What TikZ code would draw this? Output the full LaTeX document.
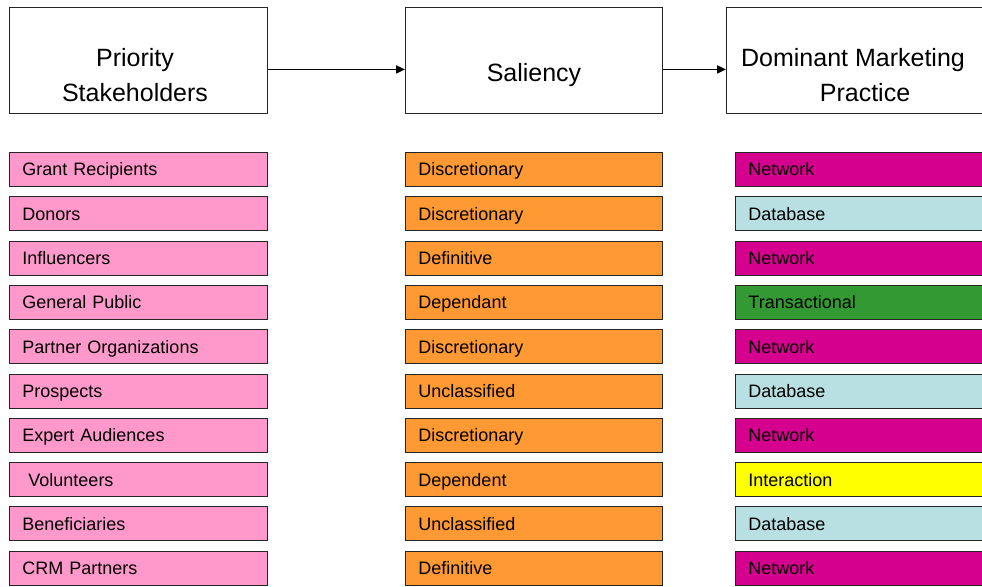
\documentclass[tikz,border=0pt]{standalone}
\usepackage{fontspec}
\setmainfont{Liberation Sans}
\usetikzlibrary{arrows.meta}
\definecolor{stakepink}{RGB}{255,153,204}
\definecolor{salorange}{RGB}{255,153,51}
\definecolor{netmagenta}{RGB}{214,0,142}
\definecolor{dbblue}{RGB}{184,223,226}
\definecolor{trgreen}{RGB}{51,153,51}
\definecolor{intyellow}{RGB}{255,255,0}
\begin{document}
\begin{tikzpicture}[x=1pt,y=-1pt,
  headbox/.style={draw=black!85, line width=0.9pt, fill=white,
    minimum width=258pt, minimum height=106pt, inner sep=0pt, anchor=north west},
  headtext/.style={font=\fontsize{25}{35}\selectfont, align=center, inner sep=0pt},
  rowbox/.style={draw=black!85, line width=0.9pt, minimum height=34pt,
    inner xsep=13pt, inner ysep=0pt, align=left, anchor=north west,
    text height=16pt, text depth=3pt,
    font=\fontsize{18}{21}\selectfont},
  leftcol/.style={rowbox, fill=stakepink, minimum width=258pt, text width=232pt},
  midcol/.style={rowbox, fill=salorange, minimum width=257pt, text width=231pt},
  rightcol/.style={rowbox, minimum width=260pt, text width=234pt},
  flow/.style={line width=1.8pt, -{Triangle[length=9pt,width=8pt]}}]
\useasboundingbox (0,0) rectangle (982,586);
\clip (0,0) rectangle (982,586);

% column headers
\node[headbox] (ps) at (9,7) {};
\node[headbox, minimum width=257pt] (sal) at (405,7) {};
\node[headbox, minimum width=265pt] (dmp) at (726,7) {};
\node[headtext] (pst) at (135,75) {Priority\\Stakeholders};
\node[headtext] (salt) at (534,75) {Saliency};
\node[headtext] (dmpt) at (853,75) {Dominant Marketing\\\hspace*{24pt}Practice};

\draw[flow] ([yshift=-9pt]ps.east) -- ([yshift=-9pt]sal.west);
\draw[flow] ([yshift=-9pt]sal.east) -- ([yshift=-9pt]dmp.west);

% stakeholder rows
\foreach \i/\stake/\sal/\prac/\pcol in {
  0/Grant Recipients/Discretionary/Network/netmagenta,
  1/Donors/Discretionary/Database/dbblue,
  2/Influencers/Definitive/Network/netmagenta,
  3/General Public/Dependant/Transactional/trgreen,
  4/Partner Organizations/Discretionary/Network/netmagenta,
  5/Prospects/Unclassified/Database/dbblue,
  6/Expert Audiences/Discretionary/Network/netmagenta,
  7/\ Volunteers/Dependent/Interaction/intyellow,
  8/Beneficiaries/Unclassified/Database/dbblue,
  9/CRM Partners/Definitive/Network/netmagenta}{
  \node[leftcol] (s\i) at (9,152+44.3*\i) {\stake};
  \node[midcol] (m\i) at (405,152+44.3*\i) {\sal};
  \node[rightcol, fill=\pcol] (p\i) at (735,152+44.3*\i) {\prac};
}
\end{tikzpicture}
\end{document}
